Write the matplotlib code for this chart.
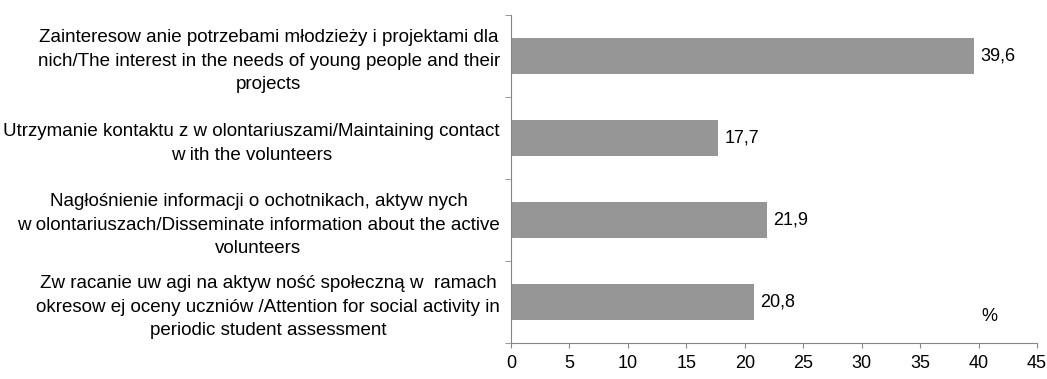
import numpy as np
import matplotlib
matplotlib.use('Agg')
import matplotlib.pyplot as plt
from matplotlib.ticker import MultipleLocator, FixedLocator

plt.rcParams['font.family'] = ['Liberation Sans', 'DejaVu Sans']

labels = [
    'Zainteresow anie potrzebami młodzieży i projektami dla\n'
    'nich/The interest in the needs of young people and their\nprojects',
    'Utrzymanie kontaktu z w olontariuszami/Maintaining contact\n'
    'w ith the volunteers',
    'Nagłośnienie informacji o ochotnikach, aktyw nych\n'
    'w olontariuszach/Disseminate information about the active\nvolunteers',
    'Zw racanie uw agi na aktyw ność społeczną w  ramach\n'
    'okresow ej oceny uczniów /Attention for social activity in\n'
    'periodic student assessment',
]
values = [39.6, 17.7, 21.9, 20.8]
value_text = ['39,6', '17,7', '21,9', '20,8']

axis_col = '#868686'

fig = plt.figure(figsize=(10.47, 3.79), dpi=100)
ax = fig.add_axes([0.488, 0.095, 0.5024, 0.8654])

pos = np.arange(len(values))
ax.barh(pos, values, height=0.43, color='#969696', zorder=2)
ax.set_ylim(len(values) - 0.5, -0.5)
ax.set_xlim(0, 45)

for p, v, t in zip(pos, values, value_text):
    ax.text(v + 0.55, p, t, va='center', ha='left', fontsize=13, color='black')

ax.text(40.9, 0.08, '%', transform=ax.get_xaxis_transform(), ha='center', va='center', fontsize=13)

ax.set_yticks(pos)
ax.set_yticklabels(labels, fontsize=13.5, multialignment='center', linespacing=1.5)
ax.yaxis.set_minor_locator(FixedLocator(np.arange(len(values) + 1) - 0.5))
ax.tick_params(axis='y', which='major', length=0, pad=8)
ax.tick_params(axis='y', which='minor', length=4, color=axis_col)

ax.xaxis.set_major_locator(MultipleLocator(5))
ax.tick_params(axis='x', length=3.5, color=axis_col, labelsize=13, pad=5)

for s in ['top', 'right']:
    ax.spines[s].set_visible(False)
for s in ['left', 'bottom']:
    ax.spines[s].set_color(axis_col)

fig.savefig('out.png', dpi=100)
